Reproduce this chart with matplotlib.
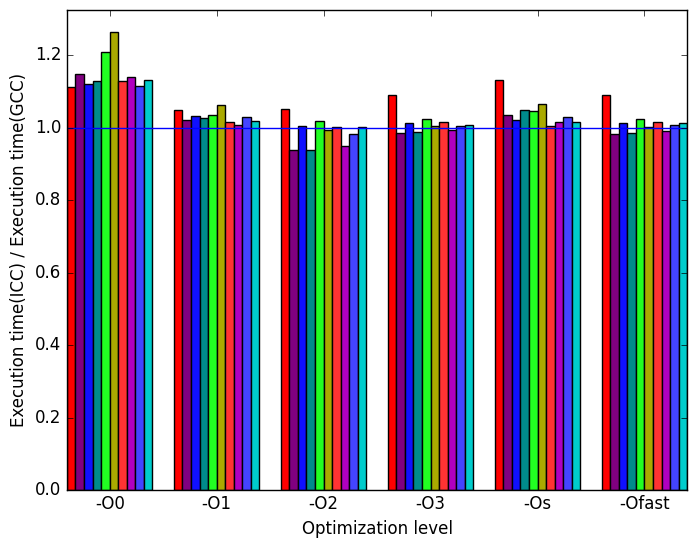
import matplotlib
matplotlib.use('Agg')
import matplotlib.pyplot as plt
import numpy as np

levels = ['-O0', '-O1', '-O2', '-O3', '-Os', '-Ofast']

# ICC/GCC execution time ratio, one list per benchmark (10 benchmarks)
ratios = np.array([
    [1.113, 1.049, 1.052, 1.090, 1.132, 1.091],
    [1.149, 1.021, 0.938, 0.986, 1.035, 0.982],
    [1.121, 1.032, 1.005, 1.014, 1.021, 1.013],
    [1.130, 1.027, 0.940, 0.989, 1.049, 0.986],
    [1.209, 1.035, 1.020, 1.024, 1.046, 1.024],
    [1.264, 1.063, 0.994, 1.005, 1.066, 1.003],
    [1.130, 1.015, 1.003, 1.016, 1.005, 1.016],
    [1.140, 1.007, 0.949, 0.994, 1.016, 0.991],
    [1.115, 1.030, 0.983, 1.006, 1.030, 1.008],
    [1.132, 1.020, 1.002, 1.009, 1.016, 1.013],
])

colors = ['#ff0000', '#800080', '#1010ff', '#008b8b', '#22ff22',
          '#aaaa00', '#ff3333', '#b000c0', '#4444ff', '#00cccc']

plt.style.use('classic')
fig, ax = plt.subplots(figsize=(6.97, 5.48), dpi=100)
fig.patch.set_facecolor('white')

width = 0.08
x = np.arange(len(levels))
for i in range(len(ratios)):
    ax.bar(x + i * width, ratios[i], width, align='edge', color=colors[i],
           edgecolor='black', linewidth=1)

ax.axhline(1.0, color='b', linewidth=1)

ax.set_xticks(x + 0.4)
ax.set_xticklabels(levels)
ax.set_xlim(0, 5.8)
ax.set_ylim(0, 1.326)
ax.set_xlabel('Optimization level')
ax.set_ylabel('Execution time(ICC) / Execution time(GCC)')

plt.subplots_adjust(left=0.096, right=0.986, bottom=0.106, top=0.982)
plt.savefig('out.png', facecolor='white')
